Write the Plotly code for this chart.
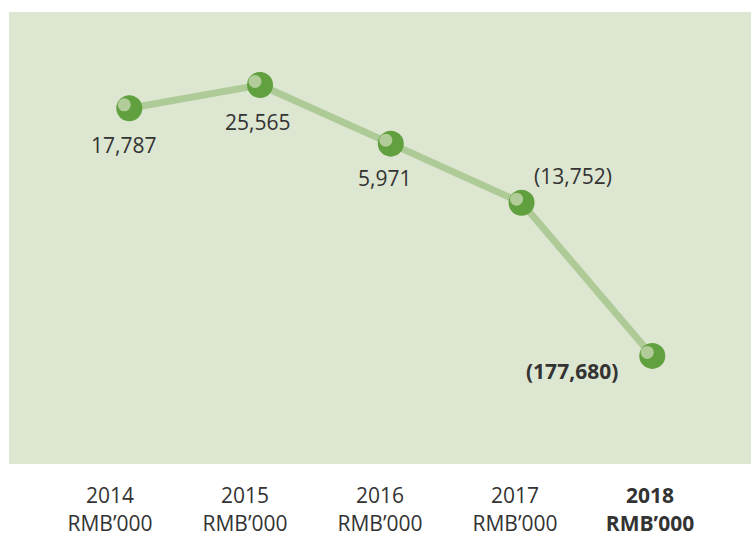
import plotly.graph_objects as go

# ---- data ----
years = [2014, 2015, 2016, 2017, 2018]
values = [17787, 25565, 5971, -13752, -177680]
value_labels = ["17,787", "25,565", "5,971", "(13,752)", "<b>(177,680)</b>"]
tick_labels = ["2014<br>RMB’000", "2015<br>RMB’000", "2016<br>RMB’000",
               "2017<br>RMB’000", "<b>2018</b><br><b>RMB’000</b>"]

# ---- broken (compressed) value scale, as in the reference infographic ----
BREAK = -20000
COMPRESS = 0.285


def scale(v):
    return v if v >= BREAK else BREAK + (v - BREAK) * COMPRESS


ys = [scale(v) for v in values]

BG = "#dde6d1"
LINE = "#aecb97"
DOT = "#61a03f"
SHINE = "#b1cc99"
TXT = "#333333"
FONT = "Open Sans"

x_range = [2014 - 0.920, 2014 + 4.755]
y_range = [-101039, 49950]
# highlight axes shifted a few pixels (px per unit: x 130.75, y 0.0029936)
x_shift = 5 / 130.75
y_shift = 3.5 / 0.0029936

fig = go.Figure()
fig.add_trace(go.Scatter(x=years, y=ys, mode="lines",
                         line=dict(color=LINE, width=7), hoverinfo="skip"))
fig.add_trace(go.Scatter(x=years, y=ys, mode="markers",
                         marker=dict(color=DOT, size=26, line=dict(width=0)),
                         customdata=values, hovertemplate="%{x}: %{customdata:,}<extra></extra>"))
fig.add_trace(go.Scatter(x=years, y=ys, mode="markers", xaxis="x3", yaxis="y3",
                         marker=dict(color=SHINE, size=13, line=dict(width=0)),
                         hoverinfo="skip"))
# invisible trace for the label axis
fig.add_trace(go.Scatter(x=years, y=ys, mode="markers", xaxis="x2",
                         marker=dict(opacity=0), hoverinfo="skip"))

offsets = [(-6, -37), (-2.5, -37), (-6.5, -34), (51.5, 27), (-80, -15.5)]
for yr, y, lab, (dx, dy) in zip(years, ys, value_labels, offsets):
    fig.add_annotation(x=yr, y=y, text=lab, showarrow=False,
                       xshift=dx, yshift=dy,
                       font=dict(family=FONT, size=21, color=TXT))

fig.update_layout(
    width=751, height=536,
    margin=dict(l=9, r=0, t=12, b=72, autoexpand=False),
    paper_bgcolor="white", plot_bgcolor=BG,
    showlegend=False,
    xaxis=dict(range=x_range, visible=False, fixedrange=True),
    xaxis2=dict(overlaying="x", side="bottom", automargin=False,
                range=[2014 - 0.748, 2014 + 4.748],
                tickvals=years, ticktext=tick_labels,
                showgrid=False, zeroline=False, showline=False,
                ticks="outside", ticklen=13, tickcolor="rgba(0,0,0,0)",
                tickfont=dict(family=FONT, size=21, color=TXT)),
    xaxis3=dict(overlaying="x", range=[x_range[0] + x_shift, x_range[1] + x_shift],
                visible=False),
    yaxis=dict(range=y_range, visible=False, fixedrange=True),
    yaxis3=dict(overlaying="y", range=[y_range[0] - y_shift, y_range[1] - y_shift],
                visible=False),
)

fig.write_html("out.html")
